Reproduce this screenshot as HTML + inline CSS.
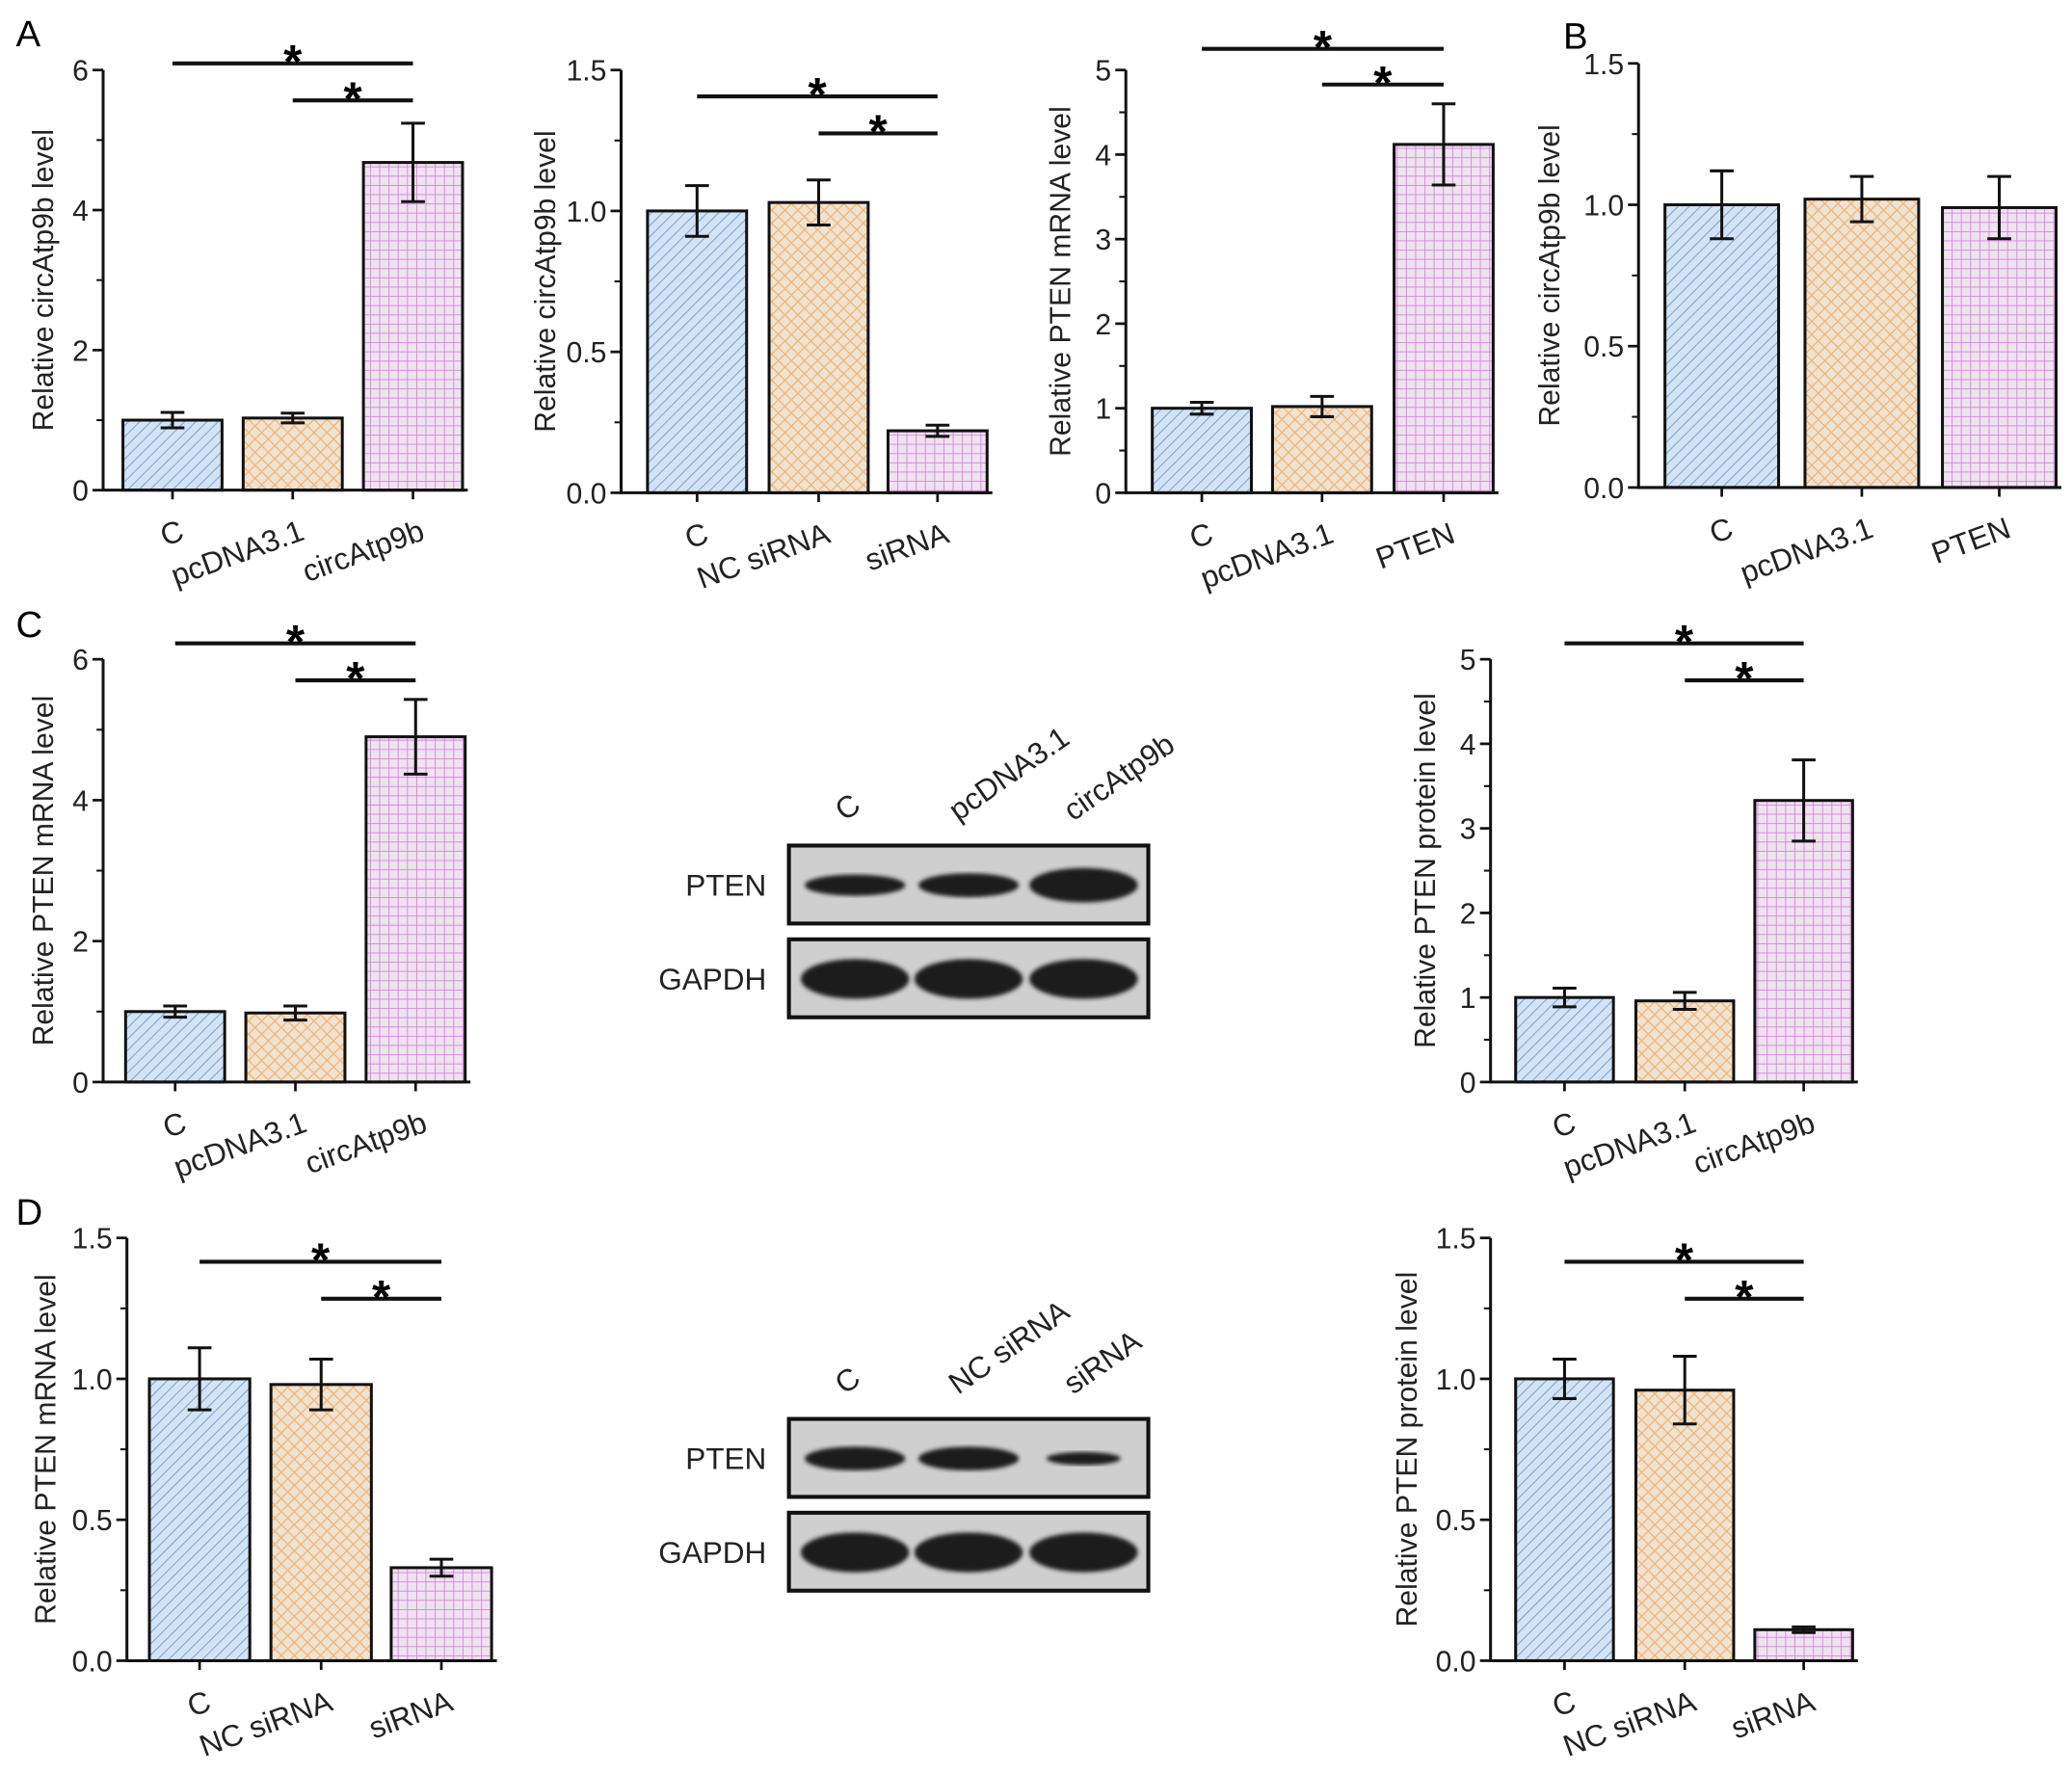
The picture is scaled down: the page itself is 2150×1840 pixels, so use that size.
<!DOCTYPE html>
<html><head><meta charset="utf-8"><style>
html,body{margin:0;padding:0;background:#fff}
svg{display:block;font-family:"Liberation Sans",Arial,sans-serif}
</style></head><body>
<svg id="fig" width="2150" height="1840" viewBox="0 0 1568 1342" xmlns="http://www.w3.org/2000/svg">
<defs>
<pattern id="pBlue" width="6" height="6" patternUnits="userSpaceOnUse" patternTransform="rotate(45)"><rect width="6" height="6" fill="#d4e3f3"/><line x1="0" y1="0" x2="0" y2="6" stroke="#7fa6d8" stroke-width="1.6"/></pattern>
<pattern id="pOrange" width="7" height="7" patternUnits="userSpaceOnUse" patternTransform="rotate(45)"><rect width="7" height="7" fill="#efe3d2"/><line x1="0" y1="0" x2="0" y2="7" stroke="#f3b77a" stroke-width="2"/><line x1="0" y1="0" x2="7" y2="0" stroke="#f3b77a" stroke-width="2"/></pattern>
<pattern id="pPink" width="7" height="7" patternUnits="userSpaceOnUse"><rect width="7" height="7" fill="#ede4ee"/><line x1="0" y1="0" x2="0" y2="7" stroke="#d77ce0" stroke-width="1.2"/><line x1="0" y1="0" x2="7" y2="0" stroke="#d77ce0" stroke-width="1.2"/></pattern>
<filter id="blur"><feGaussianBlur stdDeviation="1.5"/></filter>
</defs>
<g id="root"></g>
</svg>
<script>
// Chart data arrays
const a1Cats=["C","pcDNA3.1","circAtp9b"], a1Vals=[1.0,1.03,4.68], a1Errs=[0.11,0.07,0.56], a1Ticks=[0,2,4,6];
const a2Cats=["C","NC siRNA","siRNA"], a2Vals=[1.0,1.03,0.22], a2Errs=[0.09,0.08,0.02], a2Ticks=[0,0.5,1.0,1.5];
const a3Cats=["C","pcDNA3.1","PTEN"], a3Vals=[1.0,1.02,4.12], a3Errs=[0.07,0.12,0.48], a3Ticks=[0,1,2,3,4,5];
const bCats=["C","pcDNA3.1","PTEN"], bVals=[1.0,1.02,0.99], bErrs=[0.12,0.08,0.11], bTicks=[0,0.5,1.0,1.5];
const c1Cats=["C","pcDNA3.1","circAtp9b"], c1Vals=[1.0,0.98,4.9], c1Errs=[0.08,0.1,0.53], c1Ticks=[0,2,4,6];
const c2Cats=["C","pcDNA3.1","circAtp9b"], c2Vals=[1.0,0.96,3.33], c2Errs=[0.11,0.1,0.48], c2Ticks=[0,1,2,3,4,5];
const d1Cats=["C","NC siRNA","siRNA"], d1Vals=[1.0,0.98,0.33], d1Errs=[0.11,0.09,0.03], d1Ticks=[0,0.5,1.0,1.5];
const d2Cats=["C","NC siRNA","siRNA"], d2Vals=[1.0,0.96,0.11], d2Errs=[0.07,0.12,0.01], d2Ticks=[0,0.5,1.0,1.5];

const NS="http://www.w3.org/2000/svg";
const root=document.getElementById('root');
function mk(tag,attrs,parent,text){const e=document.createElementNS(NS,tag);for(const k in attrs)e.setAttribute(k,attrs[k]);if(text!==undefined)e.textContent=text;(parent||root).appendChild(e);return e;}
const fills=["url(#pBlue)","url(#pOrange)","url(#pPink)"];

function chart(id,cfg,cats,vals,errs,ticks){
  const g=mk('g',{});
  
  
  const max=ticks[ticks.length-1];
  const y=v=>cfg.y0-(v/max)*(cfg.y0-cfg.yTop);
  const dec=cfg.dec;
  cats.forEach((c,i)=>{
    const x0=cfg.bars[i], w=cfg.bw;
    const r=mk('rect',{x:x0,y:y(vals[i]),width:w,height:cfg.y0-y(vals[i]),fill:fills[i],stroke:'#111','stroke-width':2.2},g);
    
    
    const cx=x0+w/2, yt=y(vals[i]+errs[i]), yb=y(vals[i]-errs[i]);
    const eb=mk('path',{d:`M${cx} ${yt}V${yb}M${cx-9} ${yt}H${cx+9}M${cx-9} ${yb}H${cx+9}`,stroke:'#111','stroke-width':2.2,fill:'none'},g);
    
    
    mk('line',{x1:cx,y1:cfg.y0,x2:cx,y2:cfg.y0+7,stroke:'#111','stroke-width':2},g);
    const t=mk('text',{x:cx+10,y:cfg.y0+37,'font-size':23,'text-anchor':'end',fill:'#222',transform:`rotate(-20 ${cx+10} ${cfg.y0+37})`},g,c);
    
    
  });
  const right=cfg.bars[2]+cfg.bw+4;
  mk('path',{d:`M${cfg.ax} ${cfg.yTop}V${cfg.y0}H${right}`,stroke:'#111','stroke-width':2.2,fill:'none'},g);
  ticks.forEach((t,i)=>{
    mk('line',{x1:cfg.ax-8,y1:y(t),x2:cfg.ax,y2:y(t),stroke:'#111','stroke-width':2},g);
    if(i<ticks.length-1){const m=(t+ticks[i+1])/2;mk('line',{x1:cfg.ax-5,y1:y(m),x2:cfg.ax,y2:y(m),stroke:'#111','stroke-width':1.5},g);}
    const tl=mk('text',{x:cfg.ax-11,y:y(t)+8,'font-size':22,'text-anchor':'end',fill:'#222'},g,t.toFixed(dec));
    
    
  });
  const yl=mk('text',{x:cfg.lx,y:(cfg.y0+cfg.yTop)/2,'font-size':22,'text-anchor':'middle',fill:'#222',transform:`rotate(-90 ${cfg.lx} ${(cfg.y0+cfg.yTop)/2})`},g,cfg.ylabel);
  
  
  if(cfg.sig){
    const c0=cfg.bars[0]+cfg.bw/2, c1=cfg.bars[1]+cfg.bw/2, c2=cfg.bars[2]+cfg.bw/2;
    [[c0,cfg.sig[0]],[c1,cfg.sig[1]]].forEach(([xs,yy],k)=>{
      const l=mk('line',{x1:xs,y1:yy,x2:c2,y2:yy,stroke:'#111','stroke-width':3},g);
      
      
      const s=mk('text',{x:(xs+c2)/2,y:yy+11,'font-size':36,'font-weight':'bold','text-anchor':'middle'},g,'*');
      
      
    });
  }
}
chart('a1',{ax:78,y0:371,yTop:53,bars:[93,184,275],bw:75,dec:0,lx:40,ylabel:'Relative circAtp9b level',sig:[48,76]},a1Cats,a1Vals,a1Errs,a1Ticks);
chart('a2',{ax:470,y0:373,yTop:53,bars:[490,582,672],bw:75,dec:1,lx:420,ylabel:'Relative circAtp9b level',sig:[73,101]},a2Cats,a2Vals,a2Errs,a2Ticks);
chart('a3',{ax:852,y0:373,yTop:53,bars:[872,963,1055],bw:75,dec:0,lx:810,ylabel:'Relative PTEN mRNA level',sig:[37,64]},a3Cats,a3Vals,a3Errs,a3Ticks);
chart('b',{ax:1240,y0:369,yTop:48,bars:[1260,1366,1470],bw:86,dec:1,lx:1180,ylabel:'Relative circAtp9b level',sig:null},bCats,bVals,bErrs,bTicks);
chart('c1',{ax:78,y0:819,yTop:499,bars:[95,186,277],bw:75,dec:0,lx:40,ylabel:'Relative PTEN mRNA level',sig:[487,515]},c1Cats,c1Vals,c1Errs,c1Ticks);
chart('c2',{ax:1128,y0:819,yTop:499,bars:[1147,1238,1328],bw:74,dec:0,lx:1086,ylabel:'Relative PTEN protein level',sig:[487,515]},c2Cats,c2Vals,c2Errs,c2Ticks);
chart('d1',{ax:96,y0:1257,yTop:937,bars:[113,205,296],bw:76,dec:1,lx:42,ylabel:'Relative PTEN mRNA level',sig:[955,983]},d1Cats,d1Vals,d1Errs,d1Ticks);
chart('d2',{ax:1128,y0:1257,yTop:937,bars:[1147,1238,1328],bw:74,dec:1,lx:1072,ylabel:'Relative PTEN protein level',sig:[955,983]},d2Cats,d2Vals,d2Errs,d2Ticks);

[['A',12,35],['B',1183,37],['C',12,482],['D',12,927]].forEach(([t,x,yy])=>{
  const e=mk('text',{x:x,y:yy,'font-size':28},root,t);
  
  
});

function blot(id,top,labels,ptenW,ptenH){
  const g=mk('g',{});
  
  
  const xs=[647,733,820];
  labels.forEach((l,i)=>{
    const t=mk('text',{x:xs[i]-8,y:top-18,'font-size':23,fill:'#222',transform:`rotate(-35 ${xs[i]-8} ${top-18})`},g,l);
    
    
  });
  [['PTEN',top],['GAPDH',top+71]].forEach(([n,ty],k)=>{
    const r=mk('rect',{x:597,y:ty,width:272,height:59,fill:'#cfcfcf',stroke:'#111','stroke-width':3},g);
    
    
    const lab=mk('text',{x:580,y:ty+38,'font-size':23,'text-anchor':'end',fill:'#222'},g,n);
    
    
    xs.forEach((x,i)=>{
      const rx=k==0?ptenW[i]:41, ry=k==0?ptenH[i]:15;
      mk('ellipse',{cx:x,cy:ty+30,rx:rx,ry:ry,fill:'#1e1e1e',filter:'url(#blur)'},g);
    });
  });
}
blot('c-blot',640,['C','pcDNA3.1','circAtp9b'],[38,38,41],[8,9,13]);
blot('d-blot',1074,['C','NC siRNA','siRNA'],[38,38,28],[9,9,5]);
</script>
</body></html>
